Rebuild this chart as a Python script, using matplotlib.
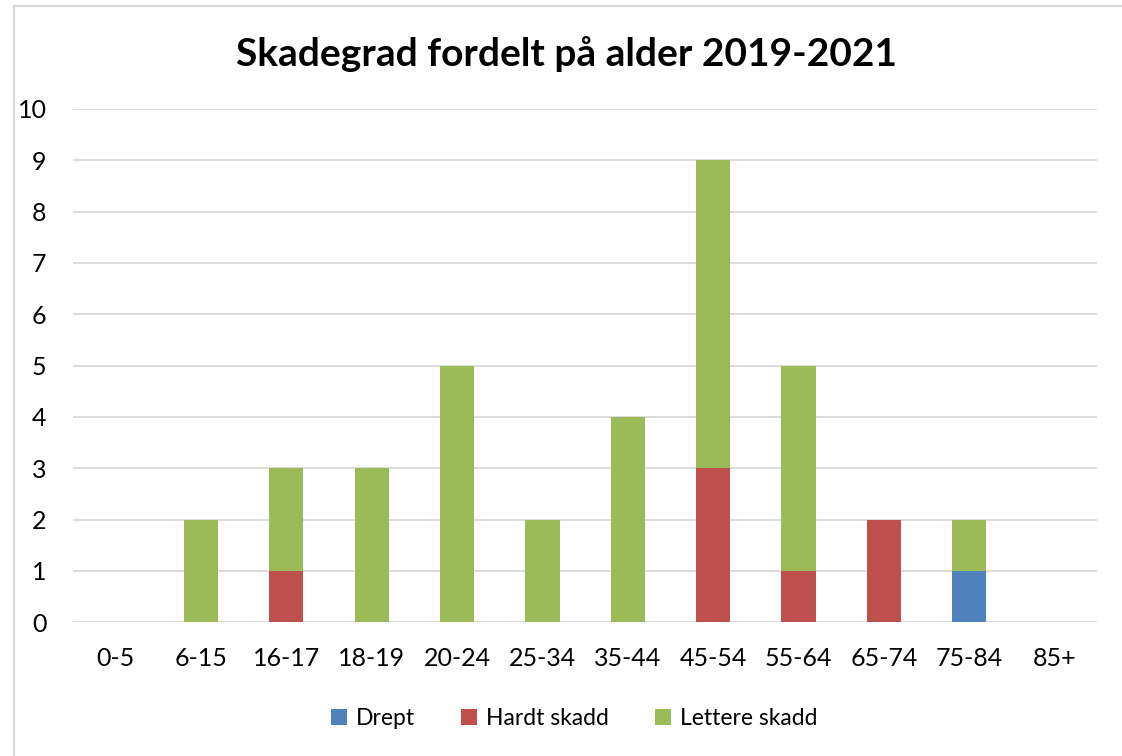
import matplotlib.pyplot as plt
import numpy as np
from matplotlib.patches import Rectangle

plt.rcParams['font.family'] = ['Lato', 'DejaVu Sans']

# Data
categories = ['0-5', '6-15', '16-17', '18-19', '20-24', '25-34', '35-44',
              '45-54', '55-64', '65-74', '75-84', '85+']
drept = [0, 0, 0, 0, 0, 0, 0, 0, 0, 0, 1, 0]
hardt = [0, 0, 1, 0, 0, 0, 0, 3, 1, 2, 0, 0]
lettere = [0, 2, 2, 3, 5, 2, 4, 6, 4, 0, 1, 0]

fig = plt.figure(figsize=(11.22, 7.56), dpi=100)
ax = fig.add_axes([0.065, 0.177, 0.913, 0.679])

# Outer chart border
fig.patches.append(Rectangle((14 / 1122, -0.02), 1.1, 1.02 - 6 / 756,
                             transform=fig.transFigure, fill=False,
                             edgecolor='#D9D9D9', linewidth=1.5))

x = np.arange(len(categories))
w = 0.4
d = np.array(drept)
h = np.array(hardt)
l = np.array(lettere)
ax.bar(x, d, w, color='#4F81BD', label='Drept', zorder=3)
ax.bar(x, h, w, bottom=d, color='#C0504D', label='Hardt skadd', zorder=3)
ax.bar(x, l, w, bottom=d + h, color='#9BBB59', label='Lettere skadd', zorder=3)

ax.set_xlim(-0.5, len(categories) - 0.5)
ax.set_ylim(0, 10)
ax.set_yticks(range(0, 11))
ax.set_xticks(x)
ax.set_xticklabels(categories)
ax.grid(axis='y', color='#D9D9D9', linewidth=1.3, zorder=0)
ax.set_axisbelow(True)
for s in ax.spines.values():
    s.set_visible(False)
ax.tick_params(length=0, labelsize=18, colors='#000000')
ax.tick_params(axis='y', pad=19)
ax.tick_params(axis='x', pad=18)

fig.text(0.505, 0.928, 'Skadegrad fordelt på alder 2019-2021', ha='center',
         va='center', fontsize=28, fontweight='bold')

fig.legend(loc='center', bbox_to_anchor=(0.512, 0.05), ncol=3, frameon=False,
           fontsize=16.5, handlelength=0.7, handleheight=0.7, columnspacing=2.0,
           handletextpad=0.4)

fig.savefig('out.png', dpi=100)
